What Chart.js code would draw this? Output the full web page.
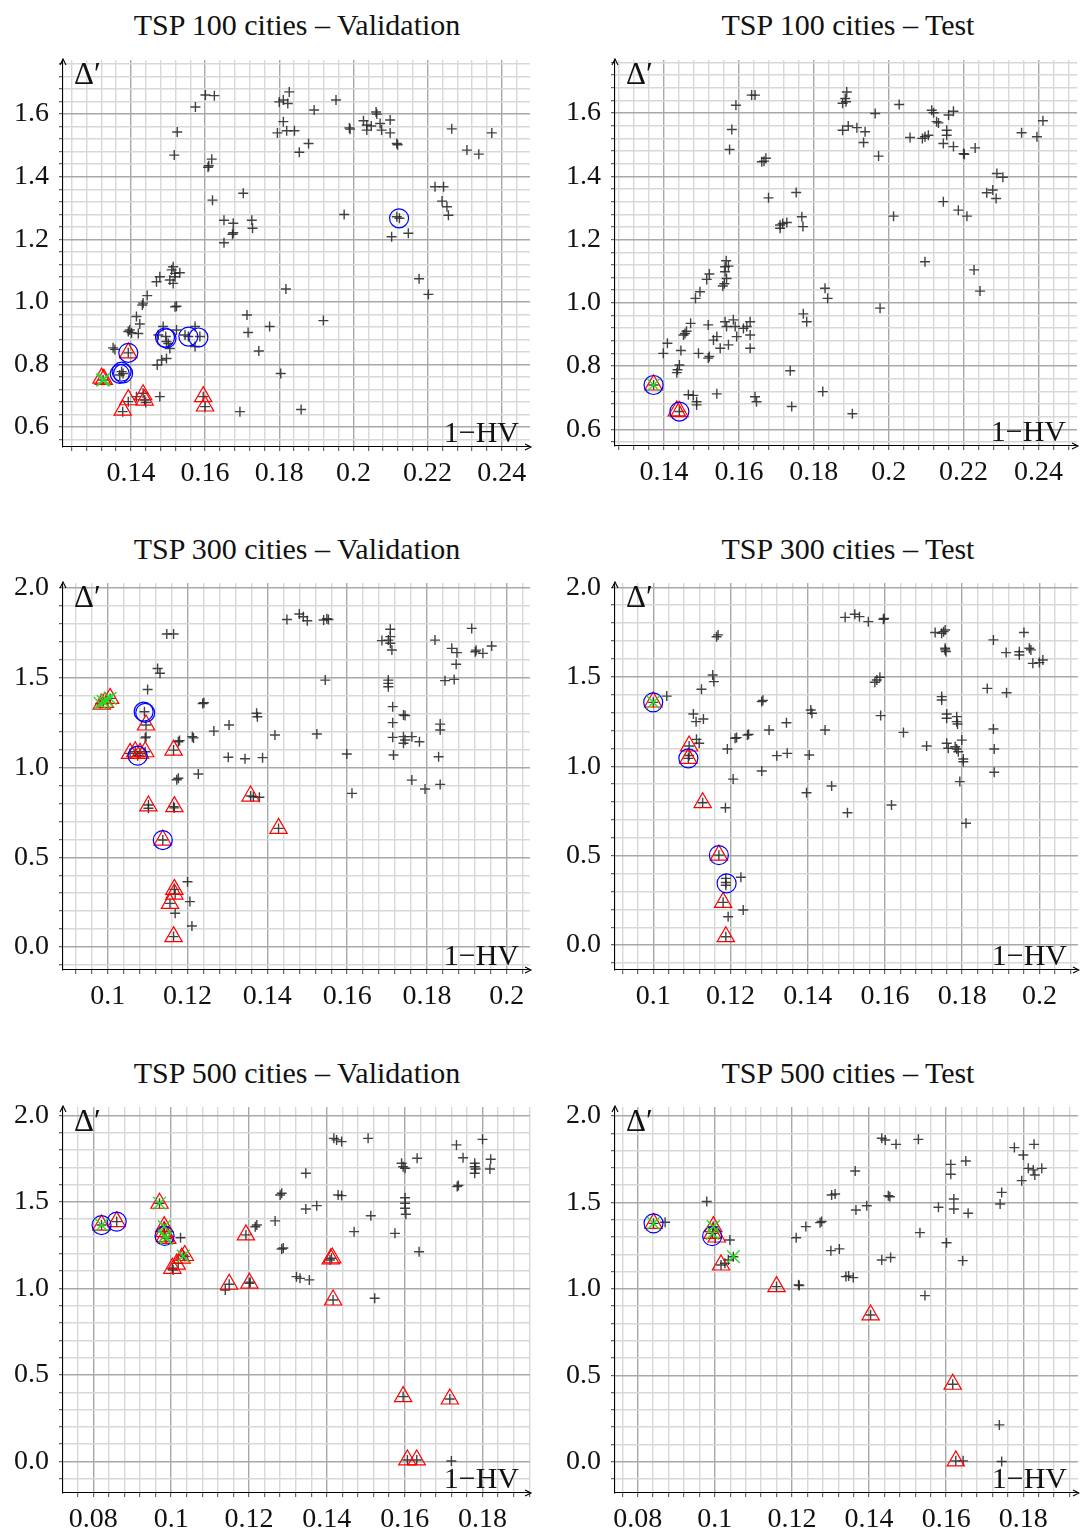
<!DOCTYPE html>
<html>
<head>
<meta charset="utf-8">
<title>TSP scatter panels</title>
<script src="https://cdn.jsdelivr.net/npm/chart.js@4.4.1/dist/chart.umd.min.js"></script>
<style>
  body { margin: 0; background: #fff; width: 1080px; height: 1535px; position: relative; overflow: hidden; font-family: 'Liberation Serif', serif; }
  .title { position: absolute; width: 540px; text-align: center; font-size: 30px; line-height: 32px; color: #111; }
  .panel { position: absolute; }
</style>
</head>
<body>
<script>
// ---- data ----
const TITLES = [
    'TSP 100 cities – Validation', 'TSP 100 cities – Test',
    'TSP 300 cities – Validation', 'TSP 300 cities – Test',
    'TSP 500 cities – Validation', 'TSP 500 cities – Test'
];

// TSP 100 - validation
const tsp100ValAll = [[0.1601,1.661],[0.1625,1.659],[0.1574,1.623],[0.1525,1.543],[0.1517,1.469],[0.1618,1.456],[0.1610,1.435],[0.1608,1.430],[0.1620,1.325],[0.1703,1.347],[0.1651,1.261],[0.1676,1.251],[0.1674,1.216],[0.1676,1.221],[0.1651,1.189],[0.1726,1.261],[0.1728,1.235],
    [0.1800,1.639],[0.1811,1.645],[0.1827,1.671],[0.1823,1.634],[0.1811,1.576],[0.1795,1.540],[0.1820,1.547],[0.1841,1.547],[0.1894,1.613],[0.1879,1.506],[0.1854,1.478],[0.1953,1.645],[0.1989,1.556],[0.1991,1.552],
    [0.2027,1.579],[0.2036,1.565],[0.2061,1.607],[0.2063,1.600],[0.2072,1.570],[0.2076,1.549],[0.2099,1.581],[0.2099,1.540],[0.2117,1.506],[0.2119,1.502],[0.2036,1.549],[0.2048,1.562],
    [0.2265,1.553],[0.2373,1.540],[0.2306,1.485],[0.2338,1.472],[0.2220,1.368],[0.2243,1.368],[0.2239,1.322],[0.2252,1.304],[0.2256,1.277],[0.1975,1.279],[0.2117,1.272],[0.2124,1.267],[0.2103,1.208],[0.2148,1.219],[0.2177,1.074],[0.2202,1.024],[0.1818,1.041],[0.1919,0.940],[0.1713,0.958],[0.1716,0.902],[0.1774,0.921],[0.1745,0.843],[0.1804,0.771],[0.1694,0.649],[0.1859,0.656],
    [0.1514,1.112],[0.1510,1.102],[0.1519,1.091],[0.1532,1.093],[0.1514,1.059],[0.1505,1.070],[0.1519,1.080],[0.1478,1.080],[0.1469,1.064],[0.1444,1.020],[0.1431,0.990],[0.1433,0.996],[0.1519,0.984],[0.1523,0.986],[0.1415,0.953],[0.1424,0.929],[0.1420,0.899],[0.1397,0.910],[0.1402,0.901],[0.1393,0.905],[0.1352,0.853],[0.1357,0.848],
    [0.1487,0.921],[0.1494,0.889],[0.1501,0.867],[0.1505,0.851],[0.1523,0.910],[0.1474,0.894],[0.1496,0.873],[0.1546,0.894],[0.1555,0.889],[0.1573,0.921],[0.1573,0.857],[0.1586,0.889],[0.1471,0.798],[0.1483,0.814],[0.1496,0.819],[0.1478,0.697],
    [0.1393,0.837],[0.1375,0.777],[0.1370,0.766],[0.1379,0.771],[0.1325,0.750],[0.1393,0.681],[0.1378,0.649],[0.1415,0.697],[0.1433,0.708],[0.1437,0.686],[0.1440,0.678],[0.1595,0.697],[0.1600,0.665]];
const tsp100ValCircle = [[0.1393,0.837],[0.1370,0.770],[0.1375,0.777],[0.1379,0.771],[0.1492,0.886],[0.1496,0.883],[0.1555,0.889],[0.1582,0.886],[0.2123,1.267]];
const tsp100ValTriangle = [[0.1321,0.756],[0.1327,0.752],[0.1393,0.837],[0.1393,0.687],[0.1378,0.654],[0.1433,0.703],[0.1437,0.686],[0.1595,0.697],[0.1600,0.667]];
const tsp100ValStar = [[0.1324,0.750],[0.1327,0.752]];

// TSP 100 - test
const tsp100TestAll = [[0.1634,1.657],[0.1643,1.657],[0.1592,1.625],[0.1581,1.548],[0.1575,1.485],[0.1661,1.446],[0.1672,1.457],[0.1667,1.448],[0.1679,1.332],[0.1753,1.349],[0.1710,1.246],[0.1717,1.251],[0.1728,1.254],[0.1710,1.236],[0.1768,1.272],[0.1771,1.241],
    [0.1877,1.631],[0.1884,1.646],[0.1888,1.667],[0.1886,1.636],[0.1877,1.546],[0.1892,1.559],[0.1915,1.554],[0.1937,1.541],[0.1933,1.507],[0.1964,1.599],[0.2028,1.627],[0.1973,1.464],
    [0.2057,1.523],[0.2090,1.520],[0.2097,1.525],[0.2106,1.530],[0.2115,1.609],[0.2120,1.601],[0.2128,1.573],[0.2133,1.569],[0.2155,1.546],[0.2155,1.530],[0.2160,1.594],[0.2173,1.606],[0.2146,1.504],[0.2173,1.494],[0.2200,1.472],[0.2202,1.470],[0.2231,1.490],
    [0.2355,1.538],[0.2396,1.525],[0.2412,1.576],[0.2289,1.409],[0.2305,1.397],[0.2262,1.348],[0.2278,1.357],[0.2287,1.330],[0.2146,1.320],[0.2186,1.293],[0.2209,1.274],[0.2013,1.274],[0.2097,1.130],[0.2228,1.104],[0.2244,1.037],[0.1830,1.046],[0.1837,1.014],[0.1977,0.983],[0.1772,0.965],[0.1781,0.940],[0.1737,0.785],[0.1824,0.719],[0.1741,0.672],[0.1903,0.649],[0.1643,0.703],[0.1647,0.687],[0.1541,0.712],[0.1465,0.709],[0.1487,0.687],[0.1487,0.677],[0.1478,0.707],
    [0.1566,1.133],[0.1563,1.114],[0.1572,1.116],[0.1563,1.098],[0.1567,1.077],[0.1557,1.053],[0.1561,1.060],[0.1521,1.091],[0.1514,1.074],[0.1496,1.035],[0.1484,1.014],[0.1471,0.935],[0.1456,0.903],[0.1452,0.898],[0.1460,0.910],[0.1409,0.872],[0.1398,0.840],[0.1445,0.849],[0.1441,0.803],[0.1436,0.788],[0.1434,0.779],[0.1492,0.840],[0.1518,0.930],[0.1521,0.830],[0.1518,0.825],
    [0.1532,0.882],[0.1541,0.893],[0.1550,0.856],[0.1572,0.867],[0.1563,0.940],[0.1567,0.925],[0.1585,0.946],[0.1590,0.925],[0.1594,0.893],[0.1612,0.919],[0.1630,0.940],[0.1630,0.898],[0.1630,0.856],[0.1621,0.925],[0.1372,0.740],[0.1441,0.656]];
const tsp100TestCircle = [[0.1372,0.740],[0.1441,0.656]];
const tsp100TestTriangle = [[0.1372,0.740],[0.1434,0.658],[0.1441,0.656]];
const tsp100TestStar = [[0.1372,0.740]];

// TSP 300 - validation
const tsp300ValAll = [[0.1449,1.825],[0.1480,1.855],[0.1490,1.840],[0.1500,1.818],[0.1541,1.822],[0.1549,1.829],[0.1553,1.825],
    [0.1148,1.744],[0.1165,1.744],[0.1125,1.552],[0.1131,1.525],[0.1100,1.435],[0.1092,1.311],[0.1096,1.237],[0.1096,1.171],[0.1094,1.165],
    [0.1056,1.079],[0.1069,1.088],[0.1081,1.079],[0.1075,1.066],[0.1094,1.088],[0.0981,1.357],[0.0989,1.367],[0.0997,1.376],[0.1006,1.385],
    [0.1177,1.144],[0.1180,1.150],[0.1177,0.940],[0.1173,0.932],[0.1212,1.172],[0.1215,1.165],[0.1238,1.357],[0.1241,1.361],[0.1227,0.964],[0.1266,1.203],[0.1304,1.237],[0.1165,1.097],[0.1302,1.057],[0.1344,1.049],[0.1388,1.055],[0.1373,1.302],[0.1375,1.283],[0.1419,1.181],[0.1358,0.841],[0.1365,0.837],[0.1380,0.834],[0.1428,0.661],[0.1102,0.791],[0.1102,0.773],[0.1165,0.782],[0.1167,0.775],[0.1138,0.596],
    [0.1167,0.321],[0.1169,0.295],[0.1156,0.243],[0.1169,0.188],[0.1165,0.058],[0.1200,0.364],[0.1206,0.253],[0.1211,0.117],
    [0.1524,1.187],[0.1545,1.487],[0.1599,1.075],[0.1612,0.856],
    [0.1687,1.707],[0.1703,1.710],[0.1708,1.770],[0.1708,1.692],[0.1712,1.655],[0.1708,1.729],[0.1703,1.487],[0.1703,1.469],[0.1703,1.450],[0.1714,1.339],[0.1714,1.250],[0.1741,1.293],[0.1745,1.290],[0.1714,1.168],[0.1741,1.172],[0.1745,1.153],[0.1741,1.135],[0.1762,1.172],[0.1781,1.144],[0.1716,1.070],[0.1762,0.930],[0.1795,0.880],[0.1833,0.906],[0.1829,1.060],[0.1833,1.242],[0.1833,1.209],
    [0.1820,1.710],[0.1862,1.664],[0.1875,1.640],[0.1873,1.575],[0.1845,1.484],[0.1868,1.491],[0.1912,1.775],[0.1921,1.645],[0.1923,1.654],[0.1940,1.636],[0.1962,1.677]];
const tsp300ValCircle = [[0.1090,1.311],[0.1094,1.305],[0.1075,1.066],[0.1138,0.596]];
const tsp300ValTriangle = [[0.0985,1.353],[0.0993,1.363],[0.1006,1.385],[0.1096,1.237],[0.1056,1.079],[0.1069,1.088],[0.1081,1.079],[0.1094,1.088],[0.1165,1.097],[0.1102,0.786],[0.1167,0.782],[0.1358,0.841],[0.1428,0.661],[0.1138,0.596],[0.1167,0.321],[0.1167,0.295],[0.1156,0.243],[0.1165,0.058]];
const tsp300ValStar = [[0.0981,1.357],[0.0989,1.367],[0.0997,1.376],[0.1006,1.385]];

// TSP 300 - test
const tsp300TestAll = [[0.1497,1.832],[0.1522,1.849],[0.1534,1.836],[0.1557,1.808],[0.1596,1.821],[0.1598,1.826],
    [0.1168,1.734],[0.1164,1.724],[0.1154,1.510],[0.1157,1.473],[0.1125,1.430],[0.1035,1.392],[0.1000,1.357],
    [0.1104,1.292],[0.1111,1.249],[0.1130,1.264],[0.1112,1.150],[0.1119,1.128],[0.1093,1.113],[0.1091,1.044],[0.1093,1.060],[0.1192,1.096],[0.1212,1.156],[0.1216,1.160],[0.1244,1.174],[0.1247,1.178],[0.1281,1.361],[0.1284,1.368],[0.1300,1.202],[0.1345,1.243],[0.1320,1.059],[0.1347,1.072],[0.1281,0.973],[0.1207,0.928],[0.1128,0.796],[0.1187,0.768],[0.1170,0.503],[0.1188,0.373],[0.1188,0.350],[0.1188,0.335],[0.1227,0.379],[0.1181,0.239],[0.1194,0.159],[0.1233,0.196],[0.1188,0.047],
    [0.1408,1.314],[0.1411,1.296],[0.1445,1.202],[0.1404,1.063],[0.1397,0.852],[0.1462,0.889],[0.1503,0.740],[0.1587,1.497],[0.1579,1.482],[0.1574,1.469],[0.1589,1.283],[0.1648,1.189],[0.1617,0.783],[0.1708,1.113],
    [0.1730,1.747],[0.1747,1.743],[0.1756,1.761],[0.1752,1.752],[0.1756,1.659],[0.1756,1.650],[0.1758,1.641],[0.1747,1.389],[0.1747,1.370],[0.1760,1.292],[0.1760,1.268],[0.1786,1.277],[0.1786,1.249],[0.1788,1.236],[0.1760,1.128],[0.1764,1.100],[0.1782,1.109],[0.1786,1.096],[0.1790,1.081],[0.1799,1.146],[0.1803,1.040],[0.1803,1.025],[0.1794,0.914],[0.1810,0.681],
    [0.1865,1.435],[0.1881,1.706],[0.1881,1.208],[0.1883,1.096],[0.1883,0.966],[0.1915,1.411],[0.1914,1.635],[0.1948,1.622],[0.1948,1.640],[0.1960,1.747],[0.1978,1.650],[0.1974,1.659],[0.1983,1.575],[0.2000,1.579],[0.2009,1.594]];
const tsp300TestCircle = [[0.1000,1.357],[0.1091,1.044],[0.1170,0.503],[0.1190,0.345]];
const tsp300TestTriangle = [[0.1000,1.359],[0.1093,1.113],[0.1091,1.044],[0.1128,0.796],[0.1170,0.503],[0.1181,0.239],[0.1188,0.047]];
const tsp300TestStar = [[0.1000,1.357]];

// TSP 500 - validation
const tsp500ValAll = [[0.0821,1.366],[0.0860,1.386],[0.0970,1.492],[0.0982,1.357],[0.0982,1.328],[0.0984,1.299],[0.0987,1.289],[0.1024,1.293],[0.1005,1.106],[0.1018,1.145],[0.1031,1.193],[0.1035,1.184],[0.1003,1.116],[0.1149,1.024],[0.1139,0.991],[0.1201,1.030],[0.1203,1.036],[0.1192,1.309],[0.1220,1.366],[0.1216,1.356],[0.1267,1.390],[0.1280,1.540],[0.1284,1.550],[0.1284,1.228],[0.1288,1.233],
    [0.1322,1.068],[0.1331,1.058],[0.1355,1.049],[0.1346,1.665],[0.1346,1.459],[0.1374,1.478],[0.1408,1.164],[0.1412,1.174],[0.1416,0.933],[0.1418,1.867],[0.1425,1.858],[0.1438,1.848],[0.1429,1.540],[0.1438,1.536],[0.1470,1.328],[0.1506,1.867],[0.1513,1.420],[0.1523,0.943],[0.1575,1.318],
    [0.1592,1.723],[0.1596,1.703],[0.1601,1.694],[0.1601,1.524],[0.1601,1.492],[0.1601,1.463],[0.1603,1.428],[0.1632,1.752],[0.1637,1.212],[0.1596,0.375],[0.1716,0.361],[0.1607,0.009],[0.1631,0.009],[0.1720,0.003],
    [0.1733,1.829],[0.1750,1.755],[0.1780,1.723],[0.1780,1.703],[0.1780,1.665],[0.1782,1.690],[0.1819,1.690],[0.1821,1.746],[0.1800,1.861],[0.1735,1.588],[0.1738,1.595]];
const tsp500ValCircle = [[0.0821,1.366],[0.0860,1.386],[0.0983,1.303]];
const tsp500ValTriangle = [[0.0821,1.366],[0.0860,1.386],[0.0970,1.492],[0.0982,1.357],[0.0982,1.328],[0.0984,1.299],[0.0990,1.289],[0.1003,1.116],[0.1014,1.140],[0.1027,1.175],[0.1035,1.190],[0.1149,1.024],[0.1201,1.030],[0.1192,1.309],[0.1410,1.170],[0.1414,1.176],[0.1416,0.933],[0.1596,0.375],[0.1716,0.361],[0.1607,0.009],[0.1631,0.009]];
const tsp500ValStar = [[0.0821,1.366],[0.0970,1.492],[0.0982,1.357],[0.0984,1.303],[0.0987,1.289],[0.1031,1.187]];

// TSP 500 - test
const tsp500TestAll = [[0.0841,1.379],[0.0871,1.385],[0.0979,1.505],[0.0996,1.360],[0.0994,1.321],[0.1001,1.292],[0.1039,1.283],[0.1048,1.186],[0.1035,1.167],[0.1026,1.148],[0.1016,1.138],[0.1160,1.013],[0.1217,1.023],[0.1219,1.019],[0.1211,1.296],[0.1236,1.360],[0.1273,1.383],[0.1277,1.390],
    [0.1303,1.543],[0.1312,1.549],[0.1301,1.221],[0.1323,1.231],[0.1340,1.071],[0.1347,1.075],[0.1359,1.065],[0.1364,1.682],[0.1366,1.456],[0.1394,1.481],[0.1404,0.849],[0.1433,1.871],[0.1442,1.861],[0.1470,1.836],[0.1450,1.539],[0.1454,1.533],[0.1433,1.167],[0.1456,1.181],
    [0.1528,1.865],[0.1532,1.325],[0.1545,0.961],[0.1580,1.472],[0.1601,1.267],[0.1612,1.720],[0.1612,1.663],[0.1651,1.740],[0.1620,1.520],[0.1620,1.462],[0.1657,1.437],[0.1643,1.163],[0.1617,0.448],[0.1625,0.005],[0.1644,0.005],[0.1738,0.213],[0.1744,0.001],
    [0.1744,1.558],[0.1740,1.491],[0.1777,1.817],[0.1800,1.774],[0.1828,1.836],[0.1796,1.626],[0.1813,1.697],[0.1826,1.688],[0.1830,1.659],[0.1848,1.697]];
const tsp500TestCircle = [[0.0841,1.379],[0.0993,1.305]];
const tsp500TestTriangle = [[0.0841,1.379],[0.0996,1.360],[0.0994,1.321],[0.1005,1.300],[0.1016,1.138],[0.1160,1.013],[0.1404,0.849],[0.1617,0.448],[0.1625,0.005]];
const tsp500TestStar = [[0.0841,1.379],[0.0996,1.360],[0.0994,1.321],[0.1048,1.186]];

// axis ranges: [min, max, major step, minor step]
const xRange100Val = [0.1217, 0.2476, 0.02, 0.004];
const yRange100Val = [0.536, 1.773, 0.2, 0.04];
const xRange100Test = [0.1269, 0.2503, 0.02, 0.004];
const yRange100Test = [0.547, 1.768, 0.2, 0.04];
const xRange300Val = [0.0888, 0.2058, 0.02, 0.004];
const yRange300Val = [-0.128, 2.028, 0.5, 0.1];
const xRange300Test = [0.0901, 0.2100, 0.02, 0.004];
const yRange300Test = [-0.139, 2.024, 0.5, 0.1];
const xRange500Val = [0.0722, 0.1922, 0.02, 0.004];
const yRange500Val = [-0.182, 2.048, 0.5, 0.1];
const xRange500Test = [0.0741, 0.1942, 0.02, 0.004];
const yRange500Test = [-0.181, 2.052, 0.5, 0.1];

// ---- layout: plot area of each panel in page pixels [left, top, right, bottom] ----
const panels = [
    { title: TITLES[0], all: tsp100ValAll, circ: tsp100ValCircle, tri: tsp100ValTriangle, star: tsp100ValStar, xr: xRange100Val, yr: yRange100Val, area: [63, 60, 530, 447], titleY: 9 },
    { title: TITLES[1], all: tsp100TestAll, circ: tsp100TestCircle, tri: tsp100TestTriangle, star: tsp100TestStar, xr: xRange100Test, yr: yRange100Test, area: [615, 60, 1077, 446], titleY: 9 },
    { title: TITLES[2], all: tsp300ValAll, circ: tsp300ValCircle, tri: tsp300ValTriangle, star: tsp300ValStar, xr: xRange300Val, yr: yRange300Val, area: [63, 583, 530, 970], titleY: 533 },
    { title: TITLES[3], all: tsp300TestAll, circ: tsp300TestCircle, tri: tsp300TestTriangle, star: tsp300TestStar, xr: xRange300Test, yr: yRange300Test, area: [615, 583, 1078, 970], titleY: 533 },
    { title: TITLES[4], all: tsp500ValAll, circ: tsp500ValCircle, tri: tsp500ValTriangle, star: tsp500ValStar, xr: xRange500Val, yr: yRange500Val, area: [63, 1107, 530, 1493], titleY: 1057 },
    { title: TITLES[5], all: tsp500TestAll, circ: tsp500TestCircle, tri: tsp500TestTriangle, star: tsp500TestStar, xr: xRange500Test, yr: yRange500Test, area: [615, 1107, 1078, 1493], titleY: 1057 }
];

const FONT = "'Liberation Serif', 'DejaVu Serif', serif";
const Y_AXIS_W = 52;
const X_AXIS_H = 44;

function isMajor(v, step) {
    const r = v / step;
    return Math.abs(r - Math.round(r)) < 1e-6;
}

function makeTicks(min, max, step) {
    const ticks = [];
    const k0 = Math.ceil(min / step - 1e-9);
    const k1 = Math.floor(max / step + 1e-9);
    for (let k = k0; k <= k1; k++) {
        ticks.push({ value: +(k * step).toFixed(6) });
    }
    return ticks;
}

function toXY(list) {
    return list.map(p => ({ x: p[0], y: p[1] }));
}

// draws axis arrows and the two in-plot axis labels
const axisDecor = {
    id: 'axisDecor',
    afterDraw(chart) {
        const { ctx, chartArea: a } = chart;
        ctx.save();
        ctx.strokeStyle = '#000';
        ctx.lineWidth = 1.1;
        ctx.beginPath();
        ctx.moveTo(a.left - 3, a.top + 5);
        ctx.lineTo(a.left, a.top - 1);
        ctx.lineTo(a.left + 3, a.top + 5);
        ctx.moveTo(a.right - 5, a.bottom - 3);
        ctx.lineTo(a.right + 1, a.bottom);
        ctx.lineTo(a.right - 5, a.bottom + 3);
        ctx.stroke();

        ctx.fillStyle = '#111';
        ctx.font = '31px ' + FONT;
        ctx.textAlign = 'left';
        ctx.textBaseline = 'alphabetic';
        ctx.fillText('Δ′', a.left + 11, a.top + 24);
        ctx.font = '30px ' + FONT;
        ctx.textAlign = 'right';
        ctx.fillText('1−HV', a.right - 11, a.bottom - 5);
        ctx.restore();
    }
};

function buildPanel(p) {
    const [aL, aT, aR, aB] = p.area;
    const isLeft = aL < 540;
    const boxLeft = isLeft ? 0 : 552;
    const boxWidth = isLeft ? 545 : 528;
    const boxTop = aT - 12;
    const boxHeight = aB + X_AXIS_H - boxTop;

    const t = document.createElement('div');
    t.className = 'title';
    t.style.left = (isLeft ? 27 : 578) + 'px';
    t.style.top = p.titleY + 'px';
    t.textContent = p.title;
    document.body.appendChild(t);

    const box = document.createElement('div');
    box.className = 'panel';
    box.style.left = boxLeft + 'px';
    box.style.top = boxTop + 'px';
    box.style.width = boxWidth + 'px';
    box.style.height = boxHeight + 'px';
    const canvas = document.createElement('canvas');
    box.appendChild(canvas);
    document.body.appendChild(box);

    const [xMin, xMax, xMaj, xMin2] = p.xr;
    const [yMin, yMax, yMaj, yMin2] = p.yr;

    const gridStyle = major => ({
        color: ctx => (ctx.tick && isMajor(ctx.tick.value, major)) ? '#a8a8a8' : '#d8d8d8',
        lineWidth: 1.4,
        tickLength: 4,
        tickColor: '#444',
        tickWidth: 1
    });

    new Chart(canvas.getContext('2d'), {
        type: 'scatter',
        data: {
            datasets: [
                {
                    label: 'solutions',
                    data: toXY(p.all),
                    pointStyle: 'cross',
                    pointRadius: 5,
                    borderColor: 'rgba(40, 40, 40, 0.88)',
                    backgroundColor: 'transparent',
                    borderWidth: 1.4,
                    order: 4
                },
                {
                    label: 'triangle',
                    data: toXY(p.tri),
                    pointStyle: 'triangle',
                    pointRadius: 10,
                    borderColor: '#ff0000',
                    backgroundColor: 'rgba(0,0,0,0)',
                    borderWidth: 1.2,
                    order: 3
                },
                {
                    label: 'circle',
                    data: toXY(p.circ),
                    pointStyle: 'circle',
                    pointRadius: 9.5,
                    borderColor: '#0000ff',
                    backgroundColor: 'rgba(0,0,0,0)',
                    borderWidth: 1.2,
                    order: 2
                },
                {
                    label: 'star',
                    data: toXY(p.star),
                    pointStyle: 'crossRot',
                    pointRadius: 9,
                    borderColor: '#22e022',
                    backgroundColor: 'transparent',
                    borderWidth: 1.4,
                    order: 1
                }
            ]
        },
        options: {
            responsive: true,
            maintainAspectRatio: false,
            animation: false,
            events: [],
            clip: false,
            layout: {
                autoPadding: false,
                padding: {
                    left: aL - boxLeft - Y_AXIS_W,
                    right: boxLeft + boxWidth - aR,
                    top: aT - boxTop,
                    bottom: 0
                }
            },
            plugins: {
                legend: { display: false },
                tooltip: { enabled: false },
                title: { display: false }
            },
            scales: {
                x: {
                    type: 'linear',
                    min: xMin,
                    max: xMax,
                    afterBuildTicks: s => { s.ticks = makeTicks(xMin, xMax, xMin2); },
                    afterFit: s => { s.height = X_AXIS_H; s.paddingLeft = 0; s.paddingRight = 0; },
                    grid: gridStyle(xMaj),
                    border: { display: true, color: '#000', width: 1.1 },
                    ticks: {
                        autoSkip: false,
                        maxRotation: 0,
                        padding: 6,
                        color: '#111',
                        font: { family: FONT, size: 28 },
                        callback: v => isMajor(v, xMaj) ? String(+v.toFixed(3)) : ''
                    }
                },
                y: {
                    type: 'linear',
                    min: yMin,
                    max: yMax,
                    afterBuildTicks: s => { s.ticks = makeTicks(yMin, yMax, yMin2); },
                    afterFit: s => { s.width = Y_AXIS_W; s.paddingTop = 0; s.paddingBottom = 0; },
                    grid: gridStyle(yMaj),
                    border: { display: true, color: '#000', width: 1.1 },
                    ticks: {
                        autoSkip: false,
                        padding: 10,
                        color: '#111',
                        font: { family: FONT, size: 28 },
                        callback: v => isMajor(v, yMaj) ? v.toFixed(1) : ''
                    }
                }
            }
        },
        plugins: [axisDecor]
    });
}

panels.forEach(buildPanel);
</script>
</body>
</html>
